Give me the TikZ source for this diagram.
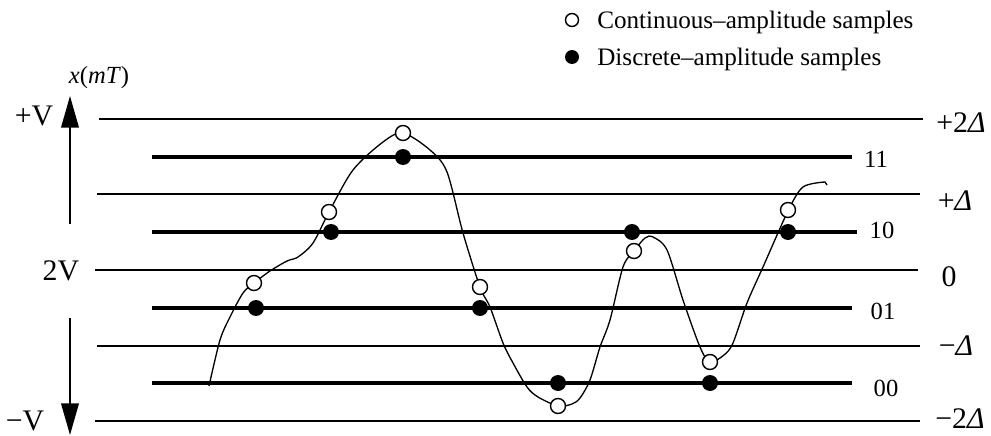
\documentclass[tikz,border=0pt]{standalone}
\usepackage{fontspec}
\setmainfont{Liberation Serif}
\usetikzlibrary{arrows.meta}

\begin{document}
\begin{tikzpicture}[x=0.02cm,y=-0.02cm,
      level line/.style={line width=0.85pt},
      code line/.style={line width=2.8pt},
      open sample/.style={circle,draw,fill=white,line width=0.8pt,minimum size=0.3cm,inner sep=0pt},
      held sample/.style={circle,fill=black,minimum size=0.32cm,inner sep=0pt},
      big label/.style={inner sep=0pt,font=\fontsize{17}{20}\selectfont},
      code label/.style={inner sep=0pt,font=\fontsize{14}{16}\selectfont},
      legend text/.style={inner sep=0pt,anchor=west,font=\fontsize{14.3}{16}\selectfont},
      range arrow/.style={-{Triangle[length=18pt,width=10pt]},line width=1.1pt}]
      \useasboundingbox (0,0) rectangle (991,436);

      % decision levels
      \coordinate (t2L) at (99,119);  \coordinate (t2R) at (923,119);
      \coordinate (t1L) at (97,194);  \coordinate (t1R) at (920,194);
      \coordinate (t0L) at (95,270);  \coordinate (t0R) at (918,270);
      \coordinate (tm1L) at (97,346); \coordinate (tm1R) at (920,346);
      \coordinate (tm2L) at (95,421); \coordinate (tm2R) at (920,421);
      \draw[level line] (t2L) -- (t2R);
      \draw[level line] (t1L) -- (t1R);
      \draw[level line] (t0L) -- (t0R);
      \draw[level line] (tm1L) -- (tm1R);
      \draw[level line] (tm2L) -- (tm2R);

      % output levels
      \coordinate (q11L) at (152,157); \coordinate (q11R) at (852,157);
      \coordinate (q10L) at (152,232); \coordinate (q10R) at (857,232);
      \coordinate (q01L) at (152,308); \coordinate (q01R) at (852,308);
      \coordinate (q00L) at (152,383); \coordinate (q00R) at (852,383);
      \draw[code line] (q11L) -- (q11R);
      \draw[code line] (q10L) -- (q10R);
      \draw[code line] (q01L) -- (q01R);
      \draw[code line] (q00L) -- (q00R);

      % right hand labels
      \node[big label] (lp2) at (961,123) {+2\textit{Δ}};
      \node[big label] (lp1) at (955,201) {+\textit{Δ}};
      \node[big label] (l0) at (949,277) {0};
      \node[big label] (lm1) at (956,346) {−\textit{Δ}};
      \node[big label] (lm2) at (960,419) {−2\textit{Δ}};
      \node[code label] (c11) at (876,159) {11};
      \node[code label] (c10) at (882,230) {10};
      \node[code label] (c01) at (883,311) {01};
      \node[code label] (c00) at (886,388) {00};

      % left hand side
      \node[big label] (vp) at (34,116) {+V};
      \node[big label] (v2) at (61,271) {2V};
      \node[big label] (vm) at (25,421) {−V};
      \node[inner sep=0pt,font=\fontsize{14}{16}\selectfont] (xm) at (99,78) {\textit{x}(\textit{mT})};
      \coordinate (upA) at (70,224); \coordinate (upB) at (70,96);
      \coordinate (dnA) at (70,318); \coordinate (dnB) at (70,435);
      \draw[range arrow] (upA) -- (upB);
      \draw[range arrow] (dnA) -- (dnB);

      % signal
      \draw[line width=0.75pt] plot[smooth,tension=0.5] coordinates {
        (209,386) (220,340) (230,317) (243,293) (254,283) (270,271) (287,261)
        (298,257) (313,243) (329,212) (353,170) (383,142) (403,133) (430,150)
        (447,172) (463,233) (480,287) (490,307) (503,343) (513,363) (527,387)
        (538,397) (558,406) (572,404) (580,398) (590,380) (600,347) (610,320)
        (623,267) (634,251) (645,238) (653,237) (667,250) (683,300) (700,347)
        (710,362) (724,355) (733,343) (747,303) (763,267) (788,211) (803,187)
        (825,182)} -- (827,185);

      % samples
      \node[held sample] (d1) at (256,308) {};
      \node[held sample] (d2) at (331,232) {};
      \node[held sample] (d3) at (403,157) {};
      \node[held sample] (d4) at (480,308) {};
      \node[held sample] (d5) at (558,383) {};
      \node[held sample] (d6) at (632,232) {};
      \node[held sample] (d7) at (710,383) {};
      \node[held sample] (d8) at (788,232) {};
      \node[open sample] (s1) at (254,283) {};
      \node[open sample] (s2) at (329,212) {};
      \node[open sample] (s3) at (403,133) {};
      \node[open sample] (s4) at (480,287) {};
      \node[open sample] (s5) at (558,406) {};
      \node[open sample] (s6) at (634,251) {};
      \node[open sample] (s7) at (710,362) {};
      \node[open sample] (s8) at (788,210) {};

      % legend
      \node[open sample,minimum size=0.26cm] (ko) at (572,20) {};
      \node[held sample,minimum size=0.28cm] (kf) at (572,57) {};
      \node[legend text] (kot) at (597,22) {Continuous–amplitude samples};
      \node[legend text] (kft) at (597,59) {Discrete–amplitude samples};
\end{tikzpicture}
\end{document}
